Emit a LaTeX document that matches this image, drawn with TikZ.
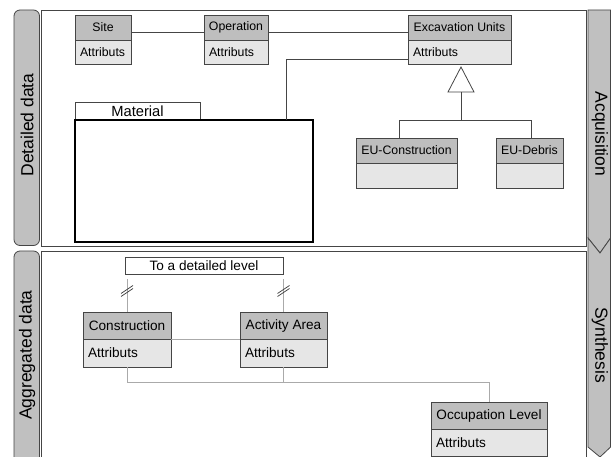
\documentclass[tikz,border=0pt]{standalone}
\usepackage{fontspec}
\setmainfont{Liberation Sans}
\definecolor{edge}{HTML}{454545}
\definecolor{hdrgray}{HTML}{BEBEBE}
\definecolor{attrgray}{HTML}{E6E6E6}
\definecolor{bargray}{HTML}{C0C0C0}
\definecolor{lightconn}{HTML}{AAAAAA}
\begin{document}
\begin{tikzpicture}[x=1pt,y=-1pt,
  box/.style={draw=edge, line width=0.8pt, inner sep=0pt, outer sep=0pt, anchor=north west},
  hdr/.style={box, fill=hdrgray},
  attr/.style={box, fill=attrgray, inner xsep=5pt, align=left},
  ftop/.style={font=\fontsize{12.3}{14}\selectfont},
  fbot/.style={font=\fontsize{13.6}{15}\selectfont},
  fside/.style={font=\fontsize{17.5}{20}\selectfont},
  bar/.style={draw=edge, fill=bargray, line width=0.8pt},
  panel/.style={draw=edge, line width=0.8pt},
  conn/.style={draw=edge, line width=0.8pt},
  lconn/.style={draw=lightconn, line width=0.9pt},
  slashmark/.style={draw=edge, line width=0.7pt}
]
\useasboundingbox (0,0) rectangle (611,457);

% side bars
\draw[bar, rounded corners=6pt] (14,10) rectangle (39.5,245.5);
\draw[bar, rounded corners=6pt] (14,251) rectangle (39.5,490);
\node[fside, rotate=90] (ldet) at (27,125) {Detailed data};
\node[fside, rotate=90] (lagg) at (27,355) {Aggregated data};

% right arrows
\draw[bar] (588,10) -- (610.6,10) -- (610.6,238) -- (600,253) -- (588,238) -- cycle;
\draw[bar] (588,238) -- (600,253) -- (610.6,238) -- (610.6,447) -- (600,457) -- (588,447) -- cycle;
\node[fside, rotate=-90] (lacq) at (600,134) {Acquisition};
\node[fside, rotate=-90] (lsyn) at (600,345) {Synthesis};

% panels
\draw[panel] (41,10) rectangle (586,246);
\draw[panel] (41,251) -- (586,251) -- (586,490);
\draw[panel] (41,251) -- (41,490);

% ---- top panel classes
\node[hdr, ftop, minimum width=56pt, minimum height=25pt] (siteH) at (75,15) {Site};
\node[attr, ftop, minimum width=56pt, minimum height=24pt, text width=46pt] (siteA) at (75,40) {Attributs};
\node[hdr, ftop, minimum width=64pt, minimum height=25pt] (opH) at (204,15) {Operation};
\node[attr, ftop, minimum width=64pt, minimum height=24pt, text width=54pt] (opA) at (204,40) {Attributs};
\node[hdr, ftop, minimum width=103pt, minimum height=25pt] (euH) at (408,15) {Excavation Units};
\node[attr, ftop, minimum width=103pt, minimum height=24pt, text width=93pt] (euA) at (408,40) {Attributs};
\node[hdr, ftop, minimum width=101pt, minimum height=25pt] (eucH) at (356,138) {EU-Construction};
\node[attr, ftop, minimum width=101pt, minimum height=25pt, text width=91pt] (eucA) at (356,163) {};
\node[hdr, ftop, minimum width=67pt, minimum height=25pt] (eudH) at (496,138) {EU-Debris};
\node[attr, ftop, minimum width=67pt, minimum height=25pt, text width=57pt] (eudA) at (496,163) {};

% Material package
\node[box, fill=white, minimum width=125pt, minimum height=18pt, font=\fontsize{14.7}{16}\selectfont] (matT) at (75,102) {Material};
\node[box, draw=black, line width=1.8pt, minimum width=238pt, minimum height=122pt] (matB) at (75,120) {};

% top connectors
\draw[conn] (siteH.east |- 0,32) -- (opH.west |- 0,32);
\draw[conn] (opH.east |- 0,32) -- (euH.west |- 0,32);
\draw[conn] (matB.north -| 286,0) |- (euA.west |- 0,59);
% generalization
\coordinate (gen) at (461,92);
\coordinate (genj) at (461,120);
\draw[conn, fill=white] (461,67) -- (448,92) -- (474,92) -- cycle;
\draw[conn] (gen) -- (genj);
\draw[conn] (eucH.north -| 399,0) |- (genj);
\draw[conn] (eudH.north -| 531,0) |- (genj);

% ---- bottom panel
\node[box, fill=white, fbot, minimum width=158pt, minimum height=17pt] (det) at (125,257) {To a detailed level};
\node[hdr, fbot, minimum width=88pt, minimum height=27pt] (consH) at (83,312) {Construction};
\node[attr, fbot, minimum width=88pt, minimum height=28pt, text width=78pt] (consA) at (83,339) {Attributs};
\node[hdr, fbot, minimum width=87pt, minimum height=27pt] (actH) at (240,312) {Activity Area};
\node[attr, fbot, minimum width=87pt, minimum height=28pt, text width=77pt] (actA) at (240,339) {Attributs};
\node[hdr, fbot, minimum width=116pt, minimum height=27pt] (occH) at (431,402) {Occupation Level};
\node[attr, fbot, minimum width=116pt, minimum height=27pt, text width=106pt] (occA) at (431,429) {Attributs};

\draw[lconn, shorten <=5pt] (det.south -| consH.north) -- (consH.north);
\draw[lconn, shorten <=5pt] (det.south -| actH.north) -- (actH.north);
\coordinate (m1) at (consH.north |- 0,291);
\coordinate (m2) at (actH.north |- 0,291);
\foreach \m in {m1,m2}{
  \draw[slashmark] ([shift={(-6,5.5)}]\m) -- ([shift={(6,-2.5)}]\m);
  \draw[slashmark] ([shift={(-6,2.5)}]\m) -- ([shift={(6,-5.5)}]\m);
}
\draw[lconn] (consH.south east) -- (actH.south west);
\coordinate (bus) at (0,382);
\draw[lconn] (consA.south) |- (bus -| occH.north) -- (occH.north);
\draw[lconn] (actA.south) -- (actA.south |- bus);
\end{tikzpicture}
\end{document}
